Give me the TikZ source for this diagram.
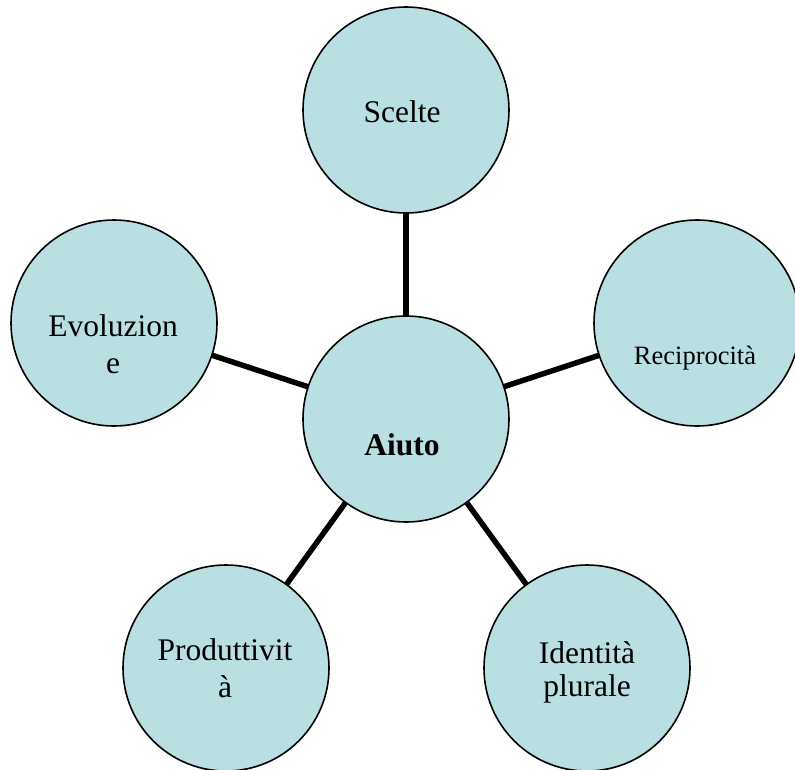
\documentclass[tikz,border=0pt]{standalone}
\usepackage{fontspec}
\setmainfont{Liberation Serif}
\usetikzlibrary{backgrounds}
\definecolor{bubblefill}{RGB}{185,223,227}
\begin{document}
\begin{tikzpicture}[x=1pt,y=-1pt,
  bubble/.style={circle,draw=black,line width=1.6pt,fill=bubblefill,
    minimum size=206pt,inner sep=0pt},
  link/.style={line width=5.5pt,black},
  caption/.style={anchor=base,align=center,inner sep=0pt,
    font=\fontsize{31.5pt}{37pt}\selectfont},
  smallcaption/.style={caption,font=\fontsize{26.5pt}{31pt}\selectfont}]
\useasboundingbox (0,0) rectangle (795,769);

% hub and its five satellites
\node[bubble] (aiuto)  at (406,419) {};
\node[bubble] (scelte) at (406,110) {};
\node[bubble] (recip)  at (697,323) {};
\node[bubble] (evol)   at (114,323) {};
\node[bubble] (prod)   at (226,668) {};
\node[bubble] (ident)  at (587,668) {};

% spokes, drawn behind the circles
\begin{scope}[on background layer]
  \draw[link] (aiuto.center) -- (scelte.center);
  \draw[link] (aiuto.center) -- (recip.center);
  \draw[link] (aiuto.center) -- (evol.center);
  \draw[link] (aiuto.center) -- (prod.center);
  \draw[link] (aiuto.center) -- (ident.center);
\end{scope}

% labels (multi-line ones sit on the baseline of their last line)
\node[caption] (aiuto-t)  at (402,455) {\textbf{Aiuto}};
\node[caption] (scelte-t) at (402,122) {Scelte};
\node[smallcaption] (recip-t) at (695,364) {Reciprocità};
\node[caption] (evol-t)   at (113,373) {Evoluzion\\e};
\node[caption] (prod-t)   at (225,697) {Produttivit\\à};
\node[caption,font=\fontsize{31.5pt}{33pt}\selectfont] (ident-t) at (587,696) {Identità\\plurale};
\end{tikzpicture}
\end{document}
